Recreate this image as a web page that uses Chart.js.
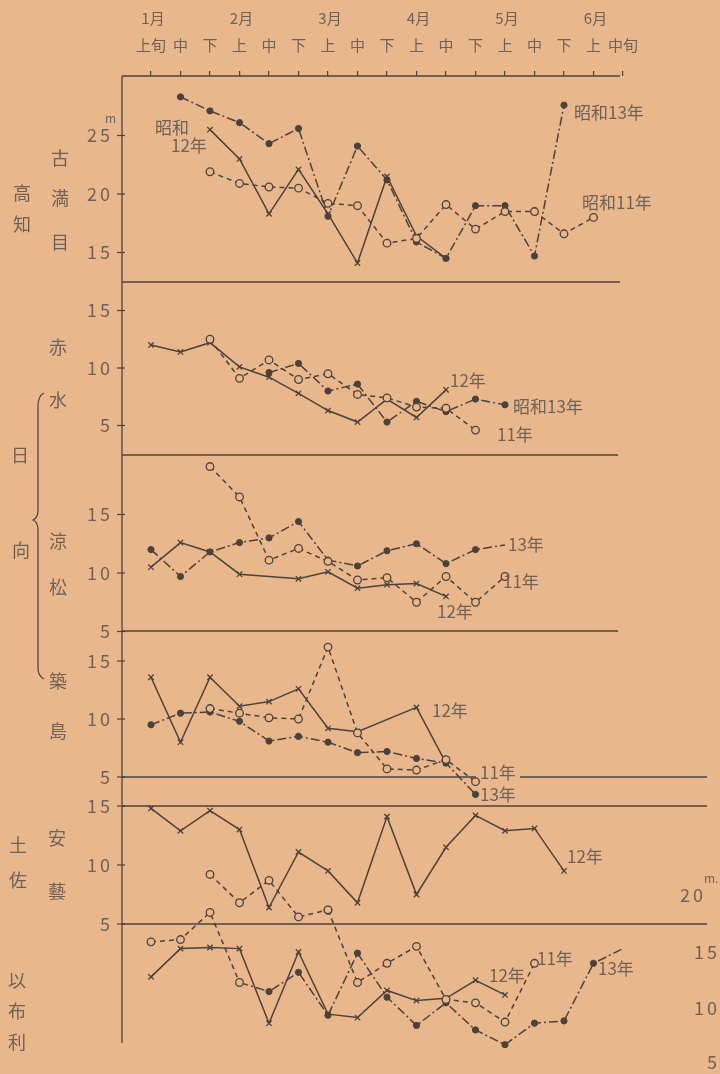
<!DOCTYPE html>
<html><head><meta charset="utf-8">
<script src="https://cdn.jsdelivr.net/npm/chart.js@4.4.1/dist/chart.umd.min.js"></script>
<style>html,body{margin:0;padding:0;background:#e8b78c;}canvas{display:block;}</style>
</head><body>
<canvas id="c" width="720" height="1074"></canvas>
<script>
// ---- categories ----
const decades = ['上旬','中','下','上','中','下','上','中','下','上','中','下','上','中','下','上','中旬'];
const months = ['1月','2月','3月','4月','5月','6月'];
const monthAt = [0,3,6,9,12,15];

// ---- 古満目 (高知) ----
const komame11 = [null,null,21.9,20.9,20.6,20.5,19.2,19.0,15.8,16.2,19.1,17.0,18.5,18.5,16.6,18.0,null];
const komame12 = [null,null,25.5,23.0,18.3,22.1,18.3,14.1,21.5,16.4,14.5,null,null,null,null,null,null];
const komame13 = [null,28.3,27.1,26.1,24.3,25.6,18.1,24.1,21.2,15.9,14.5,19.0,19.0,14.7,27.6,null,null];
const komameTicks = [15,20,25];

// ---- 赤水 (日向) ----
const akamizu11 = [null,null,12.5,9.1,10.7,9.0,9.5,7.7,7.4,6.6,6.5,4.6,null,null,null,null,null];
const akamizu12 = [12.0,11.4,12.2,10.1,9.2,7.8,6.3,5.3,7.3,5.7,8.1,null,null,null,null,null,null];
const akamizu13 = [null,null,null,null,9.6,10.4,8.0,8.6,5.3,7.1,6.2,7.3,6.8,null,null,null,null];
const akamizuTicks = [5,10,15];

// ---- 涼松 (日向) ----
const suzumatsu11 = [null,null,19.1,16.5,11.1,12.1,11.0,9.4,9.6,7.5,9.7,7.5,9.7,null,null,null,null];
const suzumatsu12 = [10.5,12.6,11.8,9.9,null,9.5,10.1,8.7,9.0,9.1,8.0,null,null,null,null,null,null];
const suzumatsu13 = [12.0,9.7,11.8,12.6,13.0,14.4,11.1,10.6,11.9,12.5,10.8,12.0,12.4,null,null,null,null];
const suzumatsuTicks = [5,10,15];

// ---- 築島 (日向) ----
const tsukishima11 = [null,null,10.9,10.5,10.1,10.0,16.2,8.8,5.7,5.6,6.5,4.6,null,null,null,null,null];
const tsukishima12 = [13.6,8.0,13.6,11.1,11.5,12.6,9.2,8.9,null,11.0,6.2,null,null,null,null,null,null];
const tsukishima13 = [9.5,10.5,10.6,9.8,8.1,8.5,8.0,7.1,7.2,6.6,6.2,3.5,null,null,null,null,null];
const tsukishimaTicks = [5,10,15];

// ---- 安藝 (土佐) ----
const aki11 = [null,null,9.2,6.8,8.7,5.6,6.2,null,null,null,null,null,null,null,null,null,null];
const aki12 = [14.8,12.9,14.6,13.0,6.4,11.1,9.5,6.8,14.1,7.5,11.5,14.2,12.9,13.1,9.5,null,null];
const akiTicks = [5,10,15];

// ---- 以布利 (土佐, right scale) ----
const iburi11 = [15.9,16.1,18.5,12.3,null,null,18.7,12.3,14.0,15.5,10.8,10.5,8.8,14.0,null,null,null];
const iburi12 = [12.8,15.3,15.4,15.3,8.7,15.0,9.5,9.2,11.6,10.7,10.9,12.5,11.2,null,null,null,null];
const iburi13 = [null,null,null,12.3,11.5,13.2,9.4,14.9,11.0,8.5,10.5,8.1,6.8,8.7,8.9,14.0,15.3];
const iburiTicks = [5,10,15,20];

// ---- layout / style ----
const PAPER = '#e8b78c', INK = '#4b423c', TXT = '#6e6257';
const FONT = '"Noto Sans CJK JP","Noto Sans",sans-serif';
const TOP = 76, BOTTOM = 1068, LEFT = 122, RIGHT = 707;
const X0PX = 151, XSTEP = 29.5;
const XMIN = -(X0PX - LEFT) / XSTEP, XMAX = XMIN + (RIGHT - LEFT) / XSTEP;
function calib(v, px, k) { const max = v + (px - TOP) / k; return {min: max - (BOTTOM - TOP) / k, max}; }
const cal = {
  y1: calib(20, 194, 11.7),
  y2: calib(10, 368, 11.5),
  y3: calib(10, 573, 11.7),
  y4: calib(10, 719, 11.6),
  y5: calib(10, 865, 11.8),
  y6: calib(15, 952, 11.3)
};

const STY = {
  '11': {dash:[5,4], ps:'circle', r:3.8, fill:PAPER, bw:1.3, order:0},
  '12': {dash:[], ps:'crossRot', r:3.8, fill:INK, bw:1.3, order:1},
  '13': {dash:[9,3,2,3], ps:'circle', r:3.1, fill:INK, bw:1, order:2}
};
function ds(label, arr, axis, yr, tailless) {
  const pts = arr.map((v, i) => v == null ? null : {x: i, y: v}).filter(Boolean);
  const s = STY[yr];
  return {
    label, data: pts, xAxisID: 'x', yAxisID: axis,
    borderColor: INK, backgroundColor: INK, borderWidth: 1.5, borderDash: s.dash,
    tension: 0, spanGaps: 2, clip: false, order: s.order,
    pointStyle: s.ps, pointBorderColor: INK, pointBackgroundColor: s.fill,
    pointBorderWidth: s.bw, pointHoverRadius: s.r,
    pointRadius: tailless ? (c => c.dataIndex === pts.length - 1 ? 0 : s.r) : s.r
  };
}

const datasets = [
  ds('古満目 11年', komame11, 'y1', '11'), ds('古満目 12年', komame12, 'y1', '12'), ds('古満目 13年', komame13, 'y1', '13'),
  ds('赤水 11年', akamizu11, 'y2', '11'), ds('赤水 12年', akamizu12, 'y2', '12'), ds('赤水 13年', akamizu13, 'y2', '13'),
  ds('涼松 11年', suzumatsu11, 'y3', '11'), ds('涼松 12年', suzumatsu12, 'y3', '12'), ds('涼松 13年', suzumatsu13, 'y3', '13', true),
  ds('築島 11年', tsukishima11, 'y4', '11'), ds('築島 12年', tsukishima12, 'y4', '12'), ds('築島 13年', tsukishima13, 'y4', '13'),
  ds('安藝 11年', aki11, 'y5', '11'), ds('安藝 12年', aki12, 'y5', '12'),
  ds('以布利 11年', iburi11, 'y6', '11'), ds('以布利 12年', iburi12, 'y6', '12'), ds('以布利 13年', iburi13, 'y6', '13', true)
];

function yScale(id) { return {type: 'linear', display: false, min: cal[id].min, max: cal[id].max}; }

const frameLines = [
  {y: 76, x1: 122, x2: 620}, {y: 282, x1: 122, x2: 620}, {y: 455, x1: 122, x2: 618},
  {y: 631, x1: 122, x2: 618}, {y: 777, x1: 122, x2: 476}, {y: 777, x1: 520, x2: 707},
  {y: 806, x1: 122, x2: 707}, {y: 924, x1: 122, x2: 707}
];
const names = [
  ['高',22,193],['知',22,224],['古',60,158],['満',60,198],['目',60,242],
  ['赤',58,347],['水',58,400],['日',20,455],['向',21,550],['涼',58,541],['松',58,587],
  ['築',58,681],['島',58,731],['土',18,845],['佐',18,880],['安',57,838],['藝',57,891],
  ['以',17,980],['布',17,1011],['利',17,1042]
];
const notes = [
  ['昭和',155,128],['12年',171,146],['昭和13年',574,113],['昭和11年',582,203],
  ['12年',450,381],['昭和13年',513,407],['11年',497,435],
  ['13年',508,545],['11年',503,582],['12年',437,612],
  ['12年',432,711],['11年',480,773],['13年',480,795],
  ['12年',567,857],
  ['12年',489,976],['11年',537,959],['13年',598,969]
];
const leftTicks = [['y1',komameTicks],['y2',akamizuTicks],['y3',suzumatsuTicks],['y4',tsukishimaTicks],['y5',akiTicks]];

const deco = {
  id: 'deco',
  beforeDraw(chart) {
    const c = chart.ctx; c.save(); c.fillStyle = PAPER; c.fillRect(0, 0, chart.width, chart.height); c.restore();
  },
  beforeDatasetsDraw(chart) {
    const c = chart.ctx; c.save();
    c.strokeStyle = INK; c.lineWidth = 1.3;
    c.beginPath(); c.moveTo(LEFT, TOP); c.lineTo(LEFT, 1043); c.stroke();
    frameLines.forEach(l => { c.beginPath(); c.moveTo(l.x1, l.y); c.lineTo(l.x2, l.y); c.stroke(); });
    // brace for 日向
    c.lineWidth = 1.2;
    c.beginPath();
    c.moveTo(44, 393); c.quadraticCurveTo(38, 396, 38, 406);
    c.lineTo(38, 510); c.quadraticCurveTo(38, 518, 33, 520); c.quadraticCurveTo(38, 522, 38, 530);
    c.lineTo(38, 668); c.quadraticCurveTo(38, 676, 44, 679);
    c.stroke();
    c.restore();
  },
  afterDatasetsDraw(chart) {
    const c = chart.ctx; c.save();
    c.fillStyle = TXT; c.strokeStyle = INK; c.lineWidth = 1.2;
    c.textBaseline = 'middle';
    // left tick labels
    c.font = '18px ' + FONT; c.textAlign = 'right';
    if ('letterSpacing' in c) c.letterSpacing = '3px';
    leftTicks.forEach(([id, arr]) => {
      const s = chart.scales[id];
      arr.forEach(v => {
        const y = s.getPixelForValue(v);
        c.fillText(String(v), 113, y);
        c.beginPath(); c.moveTo(117, y); c.lineTo(125, y); c.stroke();
      });
    });
    // right tick labels (以布利)
    const s6 = chart.scales.y6;
    iburiTicks.forEach(v => {
      const y = Math.min(s6.getPixelForValue(v), 1062);
      c.fillText(String(v), v === 20 ? 706 : 720, y);
    });
    if ('letterSpacing' in c) c.letterSpacing = '0px';
    c.font = '12px ' + FONT; c.textAlign = 'left';
    c.fillText('m', 105, chart.scales.y1.getPixelForValue(26.5));
    c.fillText('m.', 704, s6.getPixelForValue(21.5));
    // vertical names
    c.font = '18px ' + FONT; c.textAlign = 'center';
    names.forEach(([t, x, y]) => c.fillText(t, x, y));
    // annotations
    c.font = '17px ' + FONT; c.textAlign = 'left';
    notes.forEach(([t, x, y]) => c.fillText(t, x, y));
    c.restore();
  }
};

new Chart(document.getElementById('c'), {
  type: 'line',
  data: {datasets},
  options: {
    responsive: false, animation: false, events: [],
    layout: {padding: {left: LEFT, right: 720 - RIGHT, top: 0, bottom: 1074 - BOTTOM}},
    plugins: {legend: {display: false}, tooltip: {enabled: false}},
    scales: {
      x: {
        type: 'linear', position: 'top', min: XMIN, max: XMAX, weight: 0,
        afterBuildTicks: s => { s.ticks = decades.map((_, i) => ({value: i})); },
        afterFit: s => { s.height = 48; },
        ticks: {autoSkip: false, maxRotation: 0, minRotation: 0, padding: 17, color: TXT,
          font: {family: FONT, size: 15}, callback: (v, i) => decades[i]},
        grid: {drawOnChartArea: false, drawTicks: true, tickLength: 5, color: INK, lineWidth: 1.2},
        border: {display: false}
      },
      xm: {
        type: 'linear', position: 'top', min: XMIN, max: XMAX, weight: 1,
        afterBuildTicks: s => { s.ticks = monthAt.map(v => ({value: v})); },
        afterFit: s => { s.height = 28; },
        ticks: {autoSkip: false, maxRotation: 0, minRotation: 0, padding: 1, labelOffset: 2, color: TXT,
          font: {family: FONT, size: 15}, callback: (v, i) => months[i]},
        grid: {display: false, drawTicks: false, tickLength: 0},
        border: {display: false}
      },
      y1: yScale('y1'), y2: yScale('y2'), y3: yScale('y3'),
      y4: yScale('y4'), y5: yScale('y5'), y6: yScale('y6')
    }
  },
  plugins: [deco]
});
</script>
</body></html>
